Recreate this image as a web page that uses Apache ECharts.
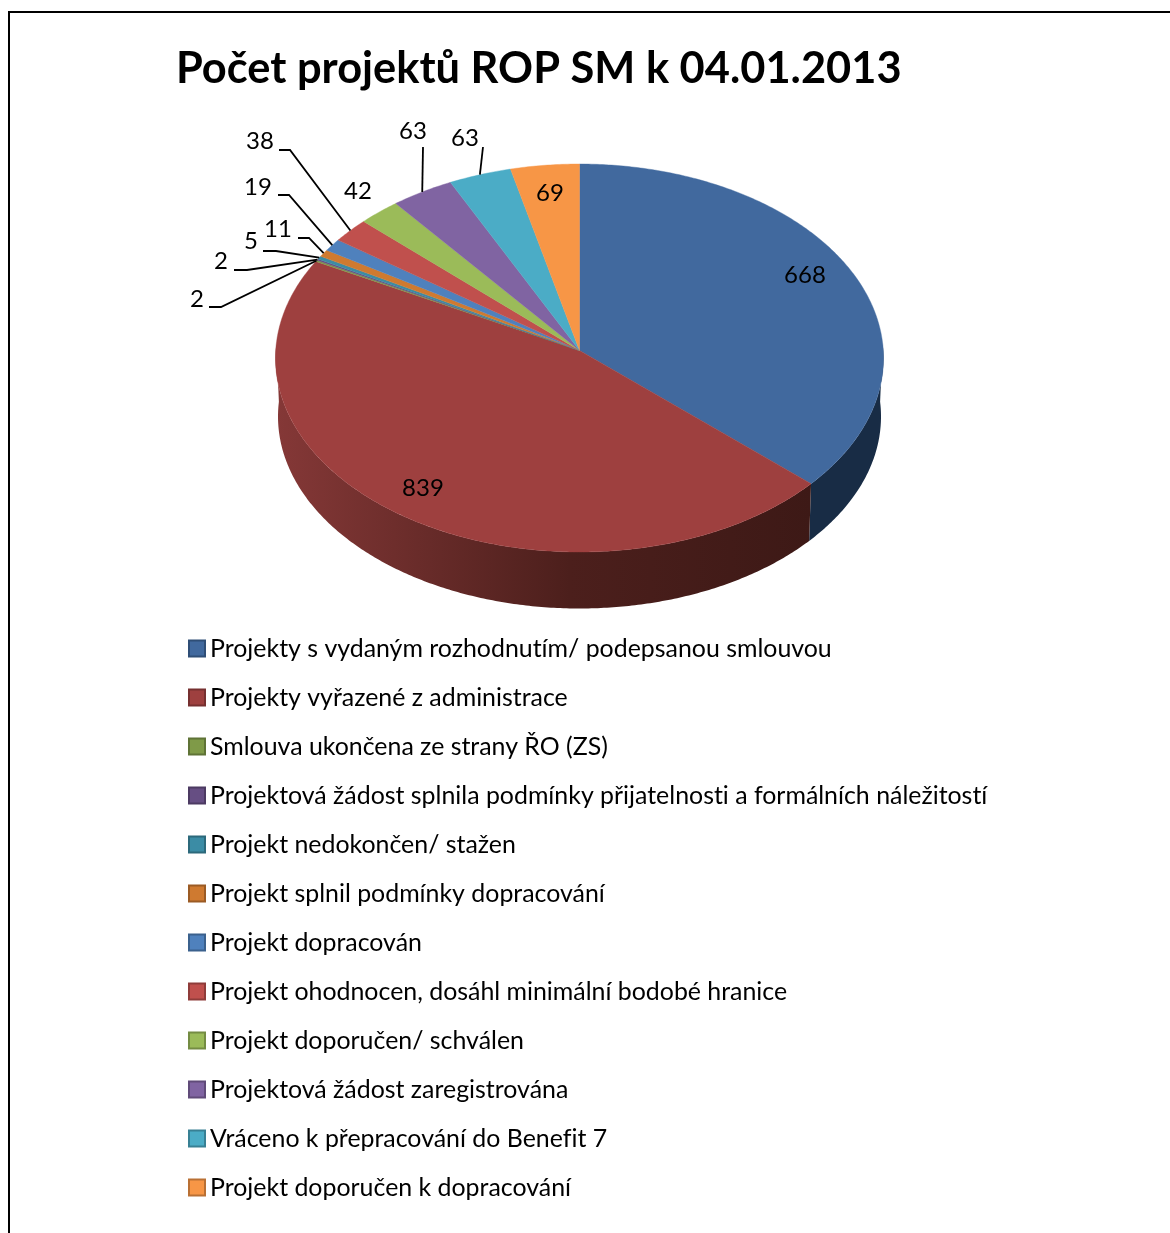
<!DOCTYPE html>
<html>
<head>
<meta charset="utf-8">
<style>html,body{margin:0;padding:0;background:#fff}#c{width:1170px;height:1233px}</style>
<script src="https://cdn.jsdelivr.net/npm/echarts@6/dist/echarts.min.js"></script>
</head>
<body>
<div id="c"></div>
<script>
const titleText = 'Počet projektů ROP SM k 04.01.2013';
const categories = [
  'Projekty s vydaným rozhodnutím/ podepsanou smlouvou',
  'Projekty vyřazené z administrace',
  'Smlouva ukončena ze strany ŘO (ZS)',
  'Projektová žádost splnila podmínky přijatelnosti a formálních náležitostí',
  'Projekt nedokončen/ stažen',
  'Projekt splnil podmínky dopracování',
  'Projekt dopracován',
  'Projekt ohodnocen, dosáhl minimální bodobé hranice',
  'Projekt doporučen/ schválen',
  'Projektová žádost zaregistrována',
  'Vráceno k přepracování do Benefit 7',
  'Projekt doporučen k dopracování'
];
const values = [668, 839, 2, 2, 5, 11, 19, 38, 42, 63, 63, 69];
const colors = ['#41699E', '#9E403F', '#7F9A48', '#664E83', '#3B8CA5', '#CF7A30', '#4F81BD', '#C0504D', '#9BBB59', '#8064A2', '#4BACC6', '#F79646'];
const borders = ['#2F4E76', '#763030', '#5F7336', '#4C3A62', '#2C697B', '#9B5B24', '#3B618D', '#8F3C3A', '#748C43', '#604B79', '#388094', '#B97034'];

// Plain glyph shaping, so that "ti" is not drawn as a ligature
const origGetContext = HTMLCanvasElement.prototype.getContext;
HTMLCanvasElement.prototype.getContext = function () {
  const ctx = origGetContext.apply(this, arguments);
  if (ctx && 'textRendering' in ctx) ctx.textRendering = 'optimizeSpeed';
  return ctx;
};

// Pie geometry (perspective projection of a disc)
const geo = { cx: 579.5, top: { cy: 358, rx: 304, ry: 194 }, bottom: { cy: 416.5, rx: 301.5, ry: 192 }, k: 0.0388 };
const wallFill = [
  '#182C45',
  { type: 'linear', x: 0, y: 0, x2: 1, y2: 0, global: false,
    colorStops: [{ offset: 0, color: '#853837' }, { offset: 0.55, color: '#4C1F1C' }, { offset: 1, color: '#3D1916' }] }
];
// Label placement: text centre, and elbow of the leader line where there is one
const labelPlace = [
  { x: 805, y: 275 }, { x: 423, y: 488 },
  { x: 197, y: 299, lx: 209, ex: 221, ly: 307 },
  { x: 221, y: 261, lx: 234, ex: 247, ly: 270 },
  { x: 251, y: 241, lx: 263, ex: 276, ly: 251 },
  { x: 278, y: 229, lx: 298, ex: 309, ly: 238 },
  { x: 258, y: 187, lx: 278, ex: 289, ly: 195 },
  { x: 260, y: 141, lx: 279, ex: 290, ly: 150 },
  { x: 358, y: 191 },
  { x: 413, y: 131, ex: 423, ly: 147 },
  { x: 465, y: 138, ex: 483, ly: 147 },
  { x: 550, y: 193 }
];

const total = values.reduce((a, b) => a + b, 0);
const starts = values.map((_, i) => values.slice(0, i).reduce((a, b) => a + b, 0));

// Disc angle -> projected ellipse unit coordinates
function proj(theta) {
  const c = Math.cos(theta), s = Math.sin(theta), k = geo.k;
  const d = 1 + k * c;
  return { u: s * Math.sqrt(1 - k * k) / d, v: (c + k) / d };
}
function onEllipse(theta, e) {
  const p = proj(theta);
  return [geo.cx + e.rx * p.u, e.cy - e.ry * p.v];
}
function arc(a0, a1, e) {
  const n = Math.max(2, Math.ceil((a1 - a0) / 0.01));
  const pts = [];
  for (let i = 0; i <= n; i++) pts.push(onEllipse(a0 + (a1 - a0) * i / n, e));
  return pts;
}
const apex = () => [geo.cx, geo.top.cy - geo.top.ry * geo.k];

function renderSlice(i) {
  return function (params, api) {
    const v = api.value(0);
    const a0 = starts[i] / total * 2 * Math.PI, a1 = (starts[i] + v) / total * 2 * Math.PI;
    const kids = [];
    // Side wall: only the front half of the rim is visible
    const vis0 = Math.max(a0, Math.PI * 0.5 - 0.038), vis1 = Math.min(a1, Math.PI * 1.5 + 0.038);
    if (vis1 > vis0) {
      const pts = arc(vis0, vis1, geo.top).concat(arc(vis0, vis1, geo.bottom).reverse());
      kids.push({ type: 'polygon', shape: { points: pts }, style: { fill: wallFill[i] || colors[i], stroke: null } });
    }
    // Top face
    kids.push({
      type: 'polygon',
      shape: { points: [apex()].concat(arc(a0, a1, geo.top)) },
      style: { fill: colors[i], stroke: colors[i], lineWidth: 0.4 }
    });
    // Leader line
    const pl = labelPlace[i];
    if (pl.ly !== undefined) {
      const end = onEllipse((a0 + a1) / 2, geo.top);
      const line = [];
      if (pl.lx !== undefined) line.push([pl.lx, pl.ly]);
      line.push([pl.ex, pl.ly], end);
      kids.push({ type: 'polyline', shape: { points: line }, style: { stroke: '#000', lineWidth: 1.8, fill: null } });
    }
    kids.push({
      type: 'text', z2: 50,
      style: { x: pl.x, y: pl.y, text: String(v), fill: '#000', font: '24px Lato', align: 'center', verticalAlign: 'middle' }
    });
    return { type: 'group', children: kids };
  };
}

const series = categories.map((name, i) => ({
  type: 'custom',
  name,
  coordinateSystem: 'none',
  silent: true,
  itemStyle: { color: colors[i] },
  data: [{ name, value: [values[i]] }],
  renderItem: renderSlice(i),
  z: 2
}));

const chart = echarts.init(document.getElementById('c'), null, { renderer: 'canvas' });
chart.setOption({
  animation: false,
  backgroundColor: '#fff',
  title: {
    text: titleText, left: 176, top: 47, padding: 0,
    textStyle: { fontFamily: 'Lato', fontWeight: 'bold', fontSize: 43.4, color: '#000' }
  },
  legend: {
    orient: 'vertical', left: 188, top: 636, padding: 0,
    itemWidth: 16, itemHeight: 16, itemGap: 24,
    selectedMode: false,
    textStyle: { fontFamily: 'Lato', fontSize: 24.9, color: '#000', height: 25, lineHeight: 25 },
    data: categories.map((name, i) => ({
      name, icon: 'rect',
      itemStyle: { color: colors[i], borderColor: borders[i], borderWidth: 2 }
    }))
  },
  graphic: [{
    type: 'rect', silent: true, z: 0,
    shape: { x: 9, y: 12, width: 1300, height: 1400 },
    style: { fill: null, stroke: '#000', lineWidth: 2 }
  }],
  series
});
</script>
</body>
</html>
